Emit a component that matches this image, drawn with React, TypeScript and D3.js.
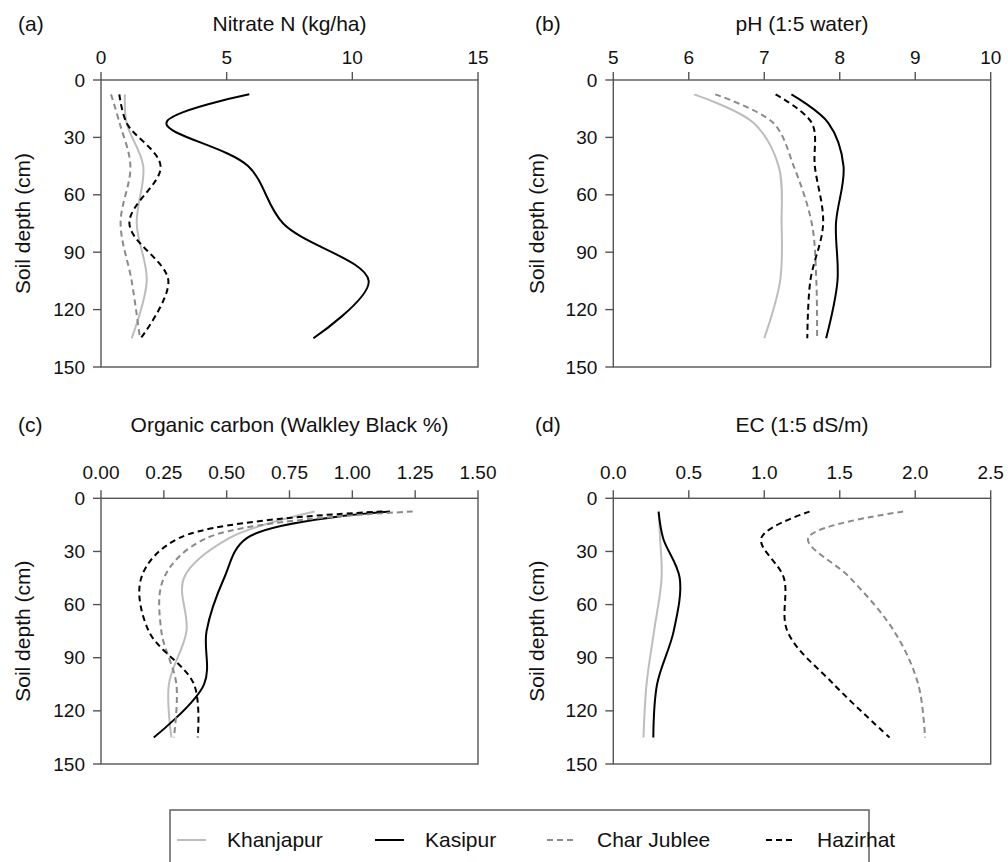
import React from "react";
import * as d3 from "d3";

const depths = [7.5, 22.5, 45, 75, 105, 135];
const depthTicks = [0, 30, 60, 90, 120, 150];

const sites = ["Khanjapur", "Kasipur", "Char Jublee", "Hazirhat"];

// Nitrate N (kg/ha)
const nitrateKhanjapur = [0.95, 1.02, 1.68, 1.42, 1.82, 1.22];
const nitrateKasipur = [5.9, 2.6, 5.85, 7.25, 10.65, 8.45];
const nitrateCharJublee = [0.4, 0.74, 1.17, 0.78, 1.22, 1.55];
const nitrateHazirhat = [0.73, 1.02, 2.37, 1.13, 2.68, 1.58];
const nitrateTicks = [0, 5, 10, 15];

// pH (1:5 water)
const phKhanjapur = [6.07, 6.86, 7.19, 7.23, 7.21, 7.0];
const phKasipur = [7.36, 7.85, 8.05, 7.95, 7.97, 7.82];
const phCharJublee = [6.35, 7.12, 7.39, 7.63, 7.69, 7.7];
const phHazirhat = [7.15, 7.63, 7.67, 7.78, 7.61, 7.57];
const phTicks = [5, 6, 7, 8, 9, 10];

// Organic carbon (Walkley Black %)
const ocKhanjapur = [0.85, 0.51, 0.33, 0.34, 0.27, 0.28];
const ocKasipur = [1.15, 0.58, 0.49, 0.42, 0.41, 0.21];
const ocCharJublee = [1.24, 0.42, 0.25, 0.24, 0.3, 0.29];
const ocHazirhat = [1.12, 0.31, 0.16, 0.19, 0.37, 0.385];
const ocTicks = [0, 0.25, 0.5, 0.75, 1.0, 1.25, 1.5];

// EC (1:5 dS/m)
const ecKhanjapur = [0.3, 0.31, 0.32, 0.27, 0.22, 0.2];
const ecKasipur = [0.3, 0.33, 0.44, 0.4, 0.29, 0.265];
const ecCharJublee = [1.92, 1.29, 1.57, 1.86, 2.02, 2.065];
const ecHazirhat = [1.3, 0.98, 1.13, 1.153, 1.46, 1.83];
const ecTicks = [0, 0.5, 1.0, 1.5, 2.0, 2.5];

const styles = [
  { color: "#bdbdbd", dash: "none" },
  { color: "#000000", dash: "none" },
  { color: "#8a8a8a", dash: "6,4" },
  { color: "#000000", dash: "6,4" },
];

const FONT = "'Liberation Sans', Arial, Helvetica, sans-serif";
const AXIS = "#555";

type PanelProps = {
  letter: string;
  title: string;
  ticks: number[];
  fmt: (v: number) => string;
  series: number[][];
  x0: number;
  x1: number;
  y0: number;
  y1: number;
  titleY: number;
  tickLabelGap: number;
  labelX: number;
  letterX: number;
};

function Panel(p: PanelProps) {
  const xs = d3.scaleLinear().domain([p.ticks[0], p.ticks[p.ticks.length - 1]]).range([p.x0, p.x1]);
  const ys = d3.scaleLinear().domain([0, 150]).range([p.y0, p.y1]);
  const line = d3
    .line<[number, number]>()
    .x((d) => xs(d[0]))
    .y((d) => ys(d[1]))
    .curve(d3.curveCatmullRom.alpha(0.5));
  const cx = (p.x0 + p.x1) / 2;
  const cy = (p.y0 + p.y1) / 2;
  return (
    <g fontFamily={FONT}>
      <text x={p.letterX} y={p.titleY} fontSize={21} fill="#111">{p.letter}</text>
      <text x={cx} y={p.titleY} fontSize={21} textAnchor="middle" fill="#111">{p.title}</text>
      <text
        transform={`translate(${p.labelX},${cy}) rotate(-90)`}
        fontSize={21}
        textAnchor="middle"
        dominantBaseline="central"
        fill="#111"
      >
        Soil depth (cm)
      </text>
      <rect x={p.x0} y={p.y0} width={p.x1 - p.x0} height={p.y1 - p.y0} fill="none" stroke={AXIS} strokeWidth={1.4} />
      {p.ticks.map((t) => (
        <g key={"x" + t}>
          <line x1={xs(t)} x2={xs(t)} y1={p.y0} y2={p.y0 - 8} stroke={AXIS} strokeWidth={1.4} />
          <text x={xs(t)} y={p.y0 - p.tickLabelGap} fontSize={19} textAnchor="middle" fill="#111">
            {p.fmt(t)}
          </text>
        </g>
      ))}
      {depthTicks.map((t) => (
        <g key={"y" + t}>
          <line x1={p.x0} x2={p.x0 - 8} y1={ys(t)} y2={ys(t)} stroke={AXIS} strokeWidth={1.4} />
          <text x={p.x0 - 16} y={ys(t)} fontSize={19} textAnchor="end" dominantBaseline="central" fill="#111">
            {t}
          </text>
        </g>
      ))}
      {p.series.map((vals, i) => (
        <path
          key={i}
          d={line(vals.map((v, j) => [v, depths[j]] as [number, number])) || ""}
          fill="none"
          stroke={styles[i].color}
          strokeWidth={2}
          strokeDasharray={styles[i].dash}
        />
      ))}
    </g>
  );
}

const legendLineX = [177, 375, 547, 766];
const legendTextX = [227, 425, 597, 817];

export default function App() {
  return (
    <svg
      width={1008}
      height={862}
      style={{ position: "absolute", left: 0, top: 0, background: "#fff" }}
    >
      <rect x={0} y={0} width={1008} height={862} fill="#fff" />
      <Panel
        letter="(a)"
        title="Nitrate N (kg/ha)"
        ticks={nitrateTicks}
        fmt={(v) => d3.format("d")(v)}
        series={[nitrateKhanjapur, nitrateKasipur, nitrateCharJublee, nitrateHazirhat]}
        x0={101}
        x1={478}
        y0={80}
        y1={367}
        titleY={31}
        tickLabelGap={16}
        labelX={22}
        letterX={18}
      />
      <Panel
        letter="(b)"
        title="pH (1:5 water)"
        ticks={phTicks}
        fmt={(v) => d3.format("d")(v)}
        series={[phKhanjapur, phKasipur, phCharJublee, phHazirhat]}
        x0={613.3}
        x1={990.7}
        y0={80}
        y1={367}
        titleY={31}
        tickLabelGap={16}
        labelX={536}
        letterX={535}
      />
      <Panel
        letter="(c)"
        title="Organic carbon (Walkley Black %)"
        ticks={ocTicks}
        fmt={(v) => d3.format(".2f")(v)}
        series={[ocKhanjapur, ocKasipur, ocCharJublee, ocHazirhat]}
        x0={101}
        x1={478}
        y0={498.3}
        y1={764}
        titleY={432}
        tickLabelGap={19}
        labelX={22}
        letterX={18}
      />
      <Panel
        letter="(d)"
        title="EC (1:5 dS/m)"
        ticks={ecTicks}
        fmt={(v) => d3.format(".1f")(v)}
        series={[ecKhanjapur, ecKasipur, ecCharJublee, ecHazirhat]}
        x0={613.3}
        x1={990.7}
        y0={498.3}
        y1={764}
        titleY={432}
        tickLabelGap={19}
        labelX={536}
        letterX={535}
      />
      <g fontFamily={FONT}>
        <rect x={170} y={810} width={699} height={70} fill="none" stroke={AXIS} strokeWidth={1.4} />
        {sites.map((s, i) => (
          <g key={s}>
            <line
              x1={legendLineX[i]}
              x2={legendLineX[i] + 29}
              y1={840}
              y2={840}
              stroke={styles[i].color}
              strokeWidth={2}
              strokeDasharray={i >= 2 ? "6,4" : "none"}
            />
            <text x={legendTextX[i]} y={847} fontSize={21} fill="#111">{s}</text>
          </g>
        ))}
      </g>
    </svg>
  );
}
